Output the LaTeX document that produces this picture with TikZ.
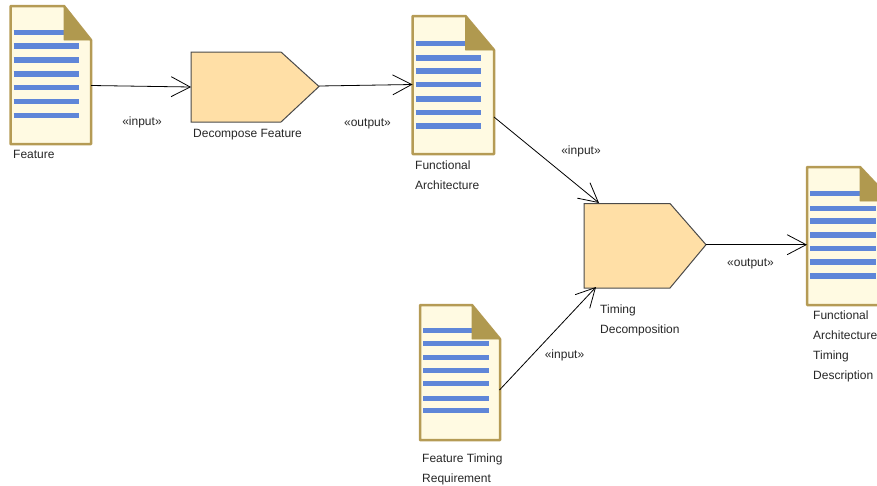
\documentclass[tikz,border=0pt]{standalone}
\usepackage{fontspec}
\setmainfont{Liberation Sans}
\usetikzlibrary{arrows.meta}
\definecolor{docfill}{HTML}{FFFAE2}
\definecolor{docedge}{HTML}{B59B55}
\definecolor{foldcol}{HTML}{B0994F}
\definecolor{linecol}{HTML}{5F86D8}
\definecolor{taskfill}{HTML}{FFDFA6}
\definecolor{taskedge}{HTML}{4A4A4A}
\tikzset{
  x=1pt,y=-1pt,
  docbody/.style={draw=docedge,fill=docfill,line width=2.5pt,line join=round},
  docfold/.style={fill=foldcol,draw=foldcol,line width=.6pt,line join=round},
  textline/.style={draw=linecol,line width=5.6pt},
  taskshape/.style={draw=taskedge,fill=taskfill,line width=1pt,line join=miter},
  flow/.style={draw=black,line width=.8pt,-{Straight Barb[length=19pt,width=20pt,line width=.8pt]}},
  lab/.style={anchor=base west,inner sep=0pt,font=\fontsize{12}{12}\selectfont,text=black!85},
  stereo/.style={anchor=base,inner sep=0pt,font=\fontsize{12}{12}\selectfont,text=black!85}
}
% #1 left, #2 top, #3 right, #4 bottom, #5 fold x, #6 fold y, #7 list of line y
\newcommand{\docsheet}[7]{%
  \draw[docbody] (#1,#2) -- (#5,#2) -- (#3,#6) -- (#3,#4) -- (#1,#4) -- cycle;
  \foreach \yy [count=\ii] in {#7} {
    \ifnum\ii=1
      \draw[textline] (#1+3,\yy) -- (#5,\yy);
    \else
      \draw[textline] (#1+3,\yy) -- (#1+68.5,\yy);
    \fi
  }
  \draw[docfold] (#5,#2) -- (#3,#6) -- (#5,#6) -- cycle;
}
\begin{document}
\begin{tikzpicture}
\useasboundingbox (0,0) rectangle (877,485);
\clip (0,0) rectangle (877,485);
\docsheet{10.5}{6}{91}{144}{64}{40}{32.5,46,60,74,87.5,101.5,115.5}
\docsheet{412.5}{16}{494}{154}{465.5}{50}{43.5,58,71,84.5,99,112.5,126}
\docsheet{420}{305}{500}{440}{472}{339}{330.5,343.5,357.5,370.5,383.5,398.5,410.5}
\docsheet{807}{167}{892}{305}{860}{201}{193.5,208.5,221,235,248.5,262,276}
\draw[taskshape] (191,52) -- (281,52) -- (319,86.5) -- (281,122) -- (191,122) -- cycle;
\draw[taskshape] (584,203.5) -- (670,203.5) -- (706,244.7) -- (670,288) -- (584,288) -- cycle;
\coordinate (featureOut) at (91,85.5);
\coordinate (decomposeIn) at (191,87);
\coordinate (decomposeOut) at (319,86);
\coordinate (archIn) at (412.5,84.5);
\coordinate (archOut) at (494,117);
\coordinate (timingInA) at (599,203);
\coordinate (reqOut) at (499.5,390);
\coordinate (timingInB) at (596,287);
\coordinate (timingOut) at (706,244.7);
\coordinate (descIn) at (807,244.7);
\draw[flow] (featureOut) -- (decomposeIn);
\draw[flow] (decomposeOut) -- (archIn);
\draw[flow] (archOut) -- (timingInA);
\draw[flow] (reqOut) -- (timingInB);
\draw[flow] (timingOut) -- (descIn);
\node[lab] (t1) at (13,158) {Feature};
\node[lab] (t2) at (193,137) {Decompose Feature};
\node[lab] (t3a) at (415,169) {Functional};
\node[lab] (t3b) at (415,189) {Architecture};
\node[lab] (t4a) at (600,313) {Timing};
\node[lab] (t4b) at (600,333) {Decomposition};
\node[lab] (t5a) at (422,462) {Feature Timing};
\node[lab] (t5b) at (422,482) {Requirement};
\node[lab] (t6a) at (813,319) {Functional};
\node[lab] (t6b) at (813,339) {Architecture};
\node[lab] (t6c) at (813,359) {Timing};
\node[lab] (t6d) at (813,379) {Description};
\node[stereo] (s1) at (142,125) {«input»};
\node[stereo] (s2) at (367.5,126) {«output»};
\node[stereo] (s3) at (581,154) {«input»};
\node[stereo] (s4) at (564.5,358) {«input»};
\node[stereo] (s5) at (750.5,266) {«output»};
\end{tikzpicture}
\end{document}
